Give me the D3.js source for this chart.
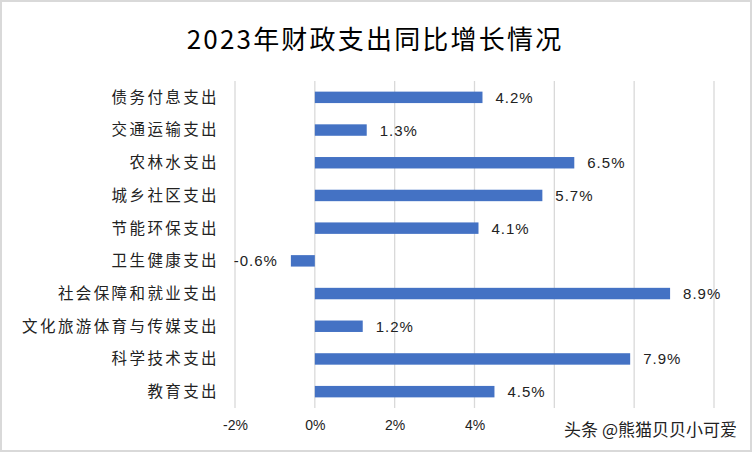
<!DOCTYPE html>
<html><head><meta charset="utf-8">
<script src="https://cdn.jsdelivr.net/npm/d3@7"></script>
<style>body{margin:0;background:#fff}svg{display:block}</style>
</head><body>
<script>
const categories = ["债务付息支出","交通运输支出","农林水支出","城乡社区支出","节能环保支出","卫生健康支出","社会保障和就业支出","文化旅游体育与传媒支出","科学技术支出","教育支出"];
const values = [4.2, 1.3, 6.5, 5.7, 4.1, -0.6, 8.9, 1.2, 7.9, 4.5];
const tickValues = [-2, 0, 2, 4, 6, 8, 10];
const tickLabels = ["-2%", "0%", "2%", "4%", "", "", ""];
const title = "2023年财政支出同比增长情况";
const watermark = "头条 @熊猫贝贝小可爱";

const W = 752, H = 452;
const svg = d3.select("body").append("svg").attr("width", W).attr("height", H);
svg.append("rect").attr("x",1).attr("y",1).attr("width",W-2).attr("height",H-2)
  .attr("fill","#fff").attr("stroke","#d9d9d9").attr("stroke-width",2);

const cjk = "'Noto Sans CJK SC','Noto Sans',sans-serif";
svg.append("text").attr("x", 375).attr("y", 49).attr("text-anchor","middle")
  .attr("font-family", cjk).attr("font-size", 26).attr("letter-spacing", 2.2)
  .attr("fill","#000").text(title);

const x = d3.scaleLinear().domain([-2, 10]).range([235, 714]);
const y = d3.scaleBand().domain(categories).range([81, 408]).paddingInner(0.65).paddingOuter(0.325);

const g = svg.append("g");
// gridlines
g.selectAll("line.grid").data(tickValues).join("line")
  .attr("x1", d => x(d)).attr("x2", d => x(d))
  .attr("y1", 81).attr("y2", 408)
  .attr("stroke", "#d9d9d9").attr("stroke-width", 1.3);

// bars
g.selectAll("rect.bar").data(values).join("rect")
  .attr("x", d => x(Math.min(0, d)))
  .attr("width", d => Math.abs(x(d) - x(0)))
  .attr("y", (d, i) => y(categories[i]))
  .attr("height", y.bandwidth())
  .attr("fill", "#4472C4");

// value labels
g.selectAll("text.val").data(values).join("text")
  .attr("x", d => d >= 0 ? x(d) + 13 : x(d) - 13)
  .attr("y", (d, i) => y(categories[i]) + y.bandwidth()/2 + 5.5)
  .attr("text-anchor", d => d >= 0 ? "start" : "end")
  .attr("font-family", "'Liberation Sans',Arial,sans-serif")
  .attr("font-size", 15).attr("letter-spacing", 1).attr("fill", "#222")
  .text(d => d.toFixed(1) + "%");

// category axis labels
const yAxis = d3.axisLeft(y).tickSize(0).tickPadding(0);
const ya = svg.append("g").attr("transform", "translate(219,0)").call(yAxis);
ya.select(".domain").remove();
ya.selectAll("text").attr("font-family", cjk).attr("font-size", 15.5)
  .attr("letter-spacing", 2.4).attr("fill", "#222").attr("dy", "0.35em");

// x axis labels
const xAxis = d3.axisBottom(x).tickValues(tickValues).tickSize(0).tickPadding(0)
  .tickFormat((d, i) => tickLabels[i]);
const xa = svg.append("g").attr("transform", "translate(0,420)").call(xAxis);
xa.select(".domain").remove();
xa.selectAll("text").attr("font-family", "'Liberation Sans',Arial,sans-serif")
  .attr("font-size", 14).attr("fill", "#222").attr("dy", "0.71em");

// watermark
svg.append("text").attr("x", 737).attr("y", 436).attr("text-anchor", "end")
  .attr("font-family", cjk).attr("font-size", 17).attr("fill", "#222")
  .attr("stroke", "#fff").attr("stroke-width", 0.6).attr("paint-order", "stroke")
  .text(watermark);
</script>
</body></html>
